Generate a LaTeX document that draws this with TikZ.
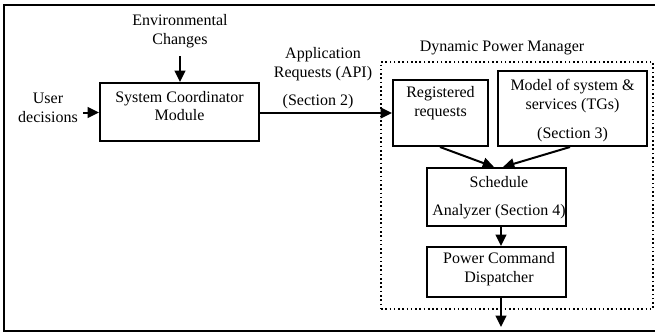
\documentclass[tikz,border=0pt]{standalone}
\usepackage{fontspec}
\setmainfont{Liberation Serif}
\usetikzlibrary{arrows.meta}
\begin{document}
\begin{tikzpicture}[x=0.75pt,y=-0.75pt,
  every node/.style={font=\fontsize{12}{14}\selectfont, inner sep=0pt},
  txt/.style={align=center},
  blk/.style={draw, line width=1.5pt, rectangle, inner sep=0pt},
  arr/.style={line width=1.5pt, -{Triangle[length=8.5pt,width=8pt]}},
  frameline/.style={line width=2pt},
  dpm/.style={draw, dotted, line width=1.2pt}]
\useasboundingbox (0,0) rectangle (655,333);

% open outer frame
\coordinate (ftr) at (660,5);
\coordinate (ftl) at (4,5);
\coordinate (fbl) at (4,331);
\coordinate (fbr) at (660,331);
\draw[frameline] (ftr) -- (ftl) -- (fbl) -- (fbr);

% Dynamic Power Manager region
\node[dpm, minimum width=272*0.75pt, minimum height=247*0.75pt] (mgr) at (517,185.5) {};
\node[txt] (mgrlbl) at (502,48) {Dynamic Power Manager};

% blocks
\node[blk, minimum width=159*0.75pt, minimum height=58*0.75pt] (coord) at (179.5,112) {};
\node[txt] (coordlbl) at (179.5,106) {System Coordinator\\Module};

\node[blk, minimum width=95*0.75pt, minimum height=66*0.75pt] (reg) at (440.5,113) {};
\node[txt] (reglbl) at (440.5,103) {Registered\\requests};

\node[blk, minimum width=149*0.75pt, minimum height=75*0.75pt] (model) at (572.5,108.5) {};
\node[txt] (modellbl1) at (572.5,96) {Model of system \&\\services (TGs)};
\node[txt] (modellbl2) at (572.5,135) {(Section 3)};

\node[blk, minimum width=139*0.75pt, minimum height=58*0.75pt] (sched) at (496.5,197) {};
\node[txt] (schedlbl1) at (499,182) {Schedule};
\node[txt] (schedlbl2) at (499,212) {Analyzer (Section 4)};

\node[blk, minimum width=139*0.75pt, minimum height=50*0.75pt] (power) at (496.5,272) {};
\node[txt] (powerlbl) at (499,269) {Power Command\\Dispatcher};

% outside inputs
\node[txt] (env) at (180,31) {Environmental\\Changes};
\node[txt] (user) at (48,108) {User\\decisions};
\node[txt] (applbl) at (323,64) {Application\\Requests (API)};
\node[txt] (seclbl) at (318,102) {(Section 2)};

\coordinate (envtail) at (180,56);
\coordinate (usertail) at (83,112.5);
\coordinate (out) at (501,327);

% connectors
\draw[arr] (envtail) -- (coord.north -| envtail);
\draw[arr] (usertail) -- (coord.west |- usertail);
\draw[arr] (coord.east |- 0,113) -- (reg.west |- 0,113);
\draw[arr] (reg.south -| 440,0) -- (sched.north -| 494,0);
\draw[arr] (model.south -| 570,0) -- (sched.north -| 503,0);
\draw[arr] (sched.south -| 501,0) -- (power.north -| 501,0);
\draw[arr] (power.south -| out) -- (out);
\end{tikzpicture}
\end{document}
